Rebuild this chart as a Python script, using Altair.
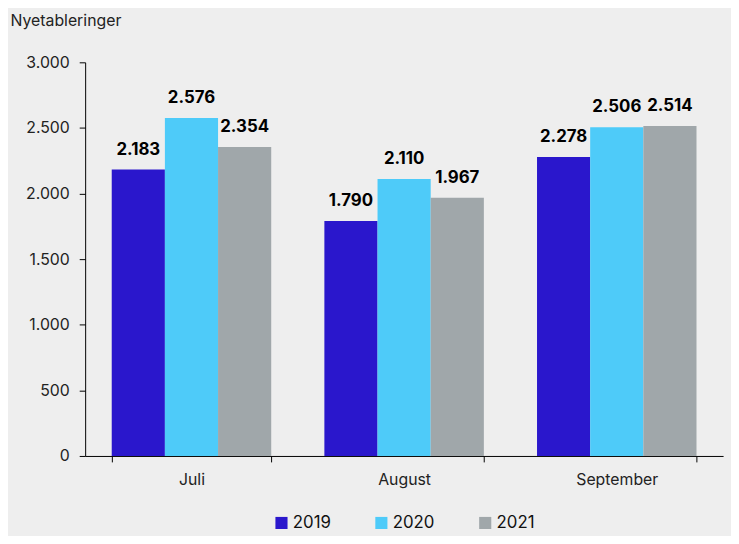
import altair as alt
import pandas as pd

months = ["Juli", "August", "September"]
years = ["2019", "2020", "2021"]
values = {
    "2019": [2183, 1790, 2278],
    "2020": [2576, 2110, 2506],
    "2021": [2354, 1967, 2514],
}
colors = ["#2a17cc", "#4ecbf9", "#a0a7aa"]

rows = []
for y in years:
    for m, v in zip(months, values[y]):
        rows.append({"Måned": m, "År": y, "Antal": v})
df = pd.DataFrame(rows)

FONT = "Inter"

base = alt.Chart(df).encode(
    x=alt.X("Måned:N", sort=months,
            scale=alt.Scale(paddingInner=0.25, paddingOuter=0.125),
            axis=alt.Axis(title=None, labelAngle=0, labelFontSize=16, labelPadding=10,
                          tickBand="extent", tickSize=6, domainColor="#000", tickColor="#000",
                          labelColor="#222", labelFont=FONT)),
    xOffset=alt.XOffset("År:N", sort=years),
)

bars = base.mark_bar().encode(
    y=alt.Y("Antal:Q", scale=alt.Scale(domain=[0, 3000]),
            axis=alt.Axis(title="Nyetableringer", titleAngle=0, titleAlign="left",
                          titleX=-76, titleY=-34, titleBaseline="bottom",
                          titleFontSize=16, titleFontWeight="normal", titleFont=FONT,
                          titleColor="#222",
                          values=[0, 500, 1000, 1500, 2000, 2500, 3000], format=",d",
                          labelFontSize=16, labelPadding=10, labelColor="#222", labelFont=FONT,
                          tickSize=6, grid=False, domainColor="#000", tickColor="#000")),
    color=alt.Color("År:N", sort=years, scale=alt.Scale(domain=years, range=colors),
                    legend=alt.Legend(title=None, orient="none", direction="horizontal",
                                      legendX=190, legendY=457, symbolType="square",
                                      symbolSize=150, symbolStrokeWidth=0,
                                      labelFontSize=17, labelFont=FONT, labelColor="#111",
                                      columnPadding=42, labelOffset=3)),
)

labels = base.mark_text(baseline="bottom", dy=-11, fontSize=17, fontWeight="bold",
                        font=FONT, color="#000").encode(
    y="Antal:Q",
    text=alt.Text("Antal:Q", format=",d"),
)

chart = (bars + labels).properties(
    width=645, height=398,
    autosize=alt.AutoSizeParams(type="none"),
    padding={"left": 78, "top": 52, "right": 8, "bottom": 78},
    background="#eeeeee",
).configure(
    locale={"number": {"decimal": ",", "thousands": ".", "grouping": [3], "currency": ["", " kr."]}}
).configure_view(stroke=None)

chart.save("out.html", embed_options={"renderer": "svg", "actions": False})
